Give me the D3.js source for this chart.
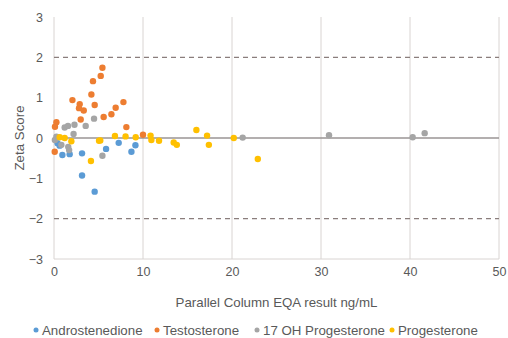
<!DOCTYPE html>
<html>
<head>
<meta charset="utf-8">
<script src="https://cdn.jsdelivr.net/npm/d3@7"></script>
<style>
  body { margin: 0; background: #fff; }
  svg { font-family: "Liberation Sans", Arial, sans-serif; }
</style>
</head>
<body>
<svg width="508" height="338"></svg>
<script>
// series values (x = EQA result ng/mL, y = zeta score)
const seriesNames = ['Androstenedione', 'Testosterone', '17 OH Progesterone', 'Progesterone'];
const seriesColors = ['#5B9BD5', '#ED7D31', '#A5A5A5', '#FFC000'];

const androX = [0.4, 0.64, 0.94, 1.76, 3.15, 5.85, 7.27, 8.7, 9.15, 3.15, 4.57];
const androY = [-0.13, -0.19, -0.42, -0.40, -0.38, -0.27, -0.12, -0.34, -0.18, -0.93, -1.33];

const testoX = [5.44, 5.25, 4.38, 4.2, 4.57, 2.07, 2.89, 2.81, 3.34, 3.0, 7.8, 6.93, 6.45, 5.58, 8.13, 10.0, 0.27, 0.11, 0.08];
const testoY = [1.74, 1.54, 1.41, 1.08, 0.82, 0.94, 0.84, 0.74, 0.68, 0.46, 0.89, 0.75, 0.59, 0.52, 0.27, 0.08, 0.39, 0.28, -0.34];

const ohpX = [0.27, 0.1, 1.2, 1.57, 2.3, 3.56, 4.5, 2.2, 0.83, 1.6, 1.7, 5.44, 21.2, 30.9, 40.3, 41.65];
const ohpY = [0.03, -0.05, 0.26, 0.30, 0.33, 0.30, 0.48, 0.10, -0.17, -0.22, -0.30, -0.44, 0.01, 0.07, 0.02, 0.12];

const progX = [0.64, 1.2, 1.95, 5.06, 5.2, 6.85, 8.04, 9.18, 10.85, 10.94, 11.8, 13.45, 13.8, 16.0, 17.2, 17.4, 20.2, 22.9, 4.15];
const progY = [0.02, 0.0, -0.08, -0.07, -0.06, 0.05, 0.04, 0.02, 0.06, -0.05, -0.07, -0.11, -0.17, 0.2, 0.06, -0.17, 0.0, -0.52, -0.57];

const xTicks = [0, 10, 20, 30, 40, 50];
const yTicks = [-3, -2, -1, 0, 1, 2, 3];
const limitLines = [-2, 2];

const seriesX = [androX, testoX, ohpX, progX];
const seriesY = [androY, testoY, ohpY, progY];

const svg = d3.select('svg');
const margin = { top: 17, right: 9, bottom: 79, left: 54 };
const width = 508 - margin.left - margin.right;
const height = 338 - margin.top - margin.bottom;

const x = d3.scaleLinear().domain([0, 50]).range([0, width]);
const y = d3.scaleLinear().domain([-3, 3]).range([height, 0]);

const g = svg.append('g').attr('transform', `translate(${margin.left},${margin.top})`);

// vertical gridlines
g.selectAll('.vgrid')
  .data(xTicks)
  .enter()
  .append('line')
  .attr('x1', (d) => x(d))
  .attr('x2', (d) => x(d))
  .attr('y1', 0)
  .attr('y2', height)
  .attr('stroke', '#d9d4d2')
  .attr('stroke-width', 1);

// bottom border
g.append('line')
  .attr('x1', 0).attr('x2', width)
  .attr('y1', y(-3)).attr('y2', y(-3))
  .attr('stroke', '#d9d4d2');

// +/- 2 limits
g.selectAll('.limit')
  .data(limitLines)
  .enter()
  .append('line')
  .attr('x1', 0).attr('x2', width)
  .attr('y1', (d) => y(d)).attr('y2', (d) => y(d))
  .attr('stroke', '#8a7e7c')
  .attr('stroke-width', 1.3)
  .attr('stroke-dasharray', '5,4');

// zero line
g.append('line')
  .attr('x1', 0).attr('x2', width)
  .attr('y1', y(0)).attr('y2', y(0))
  .attr('stroke', '#9a9594')
  .attr('stroke-width', 1.5);

// axes labels
const xAxis = d3.axisBottom(x).tickValues(xTicks).tickSize(0).tickPadding(8);
const xg = g.append('g').attr('transform', `translate(0,${height})`).call(xAxis);
xg.select('.domain').remove();
xg.selectAll('text').attr('font-size', 12.5).attr('fill', '#595959');

const yAxis = d3.axisLeft(y).tickValues(yTicks).tickSize(0).tickPadding(11).tickFormat(d3.format('d'));
const yg = g.append('g').call(yAxis);
yg.select('.domain').remove();
yg.selectAll('text').attr('font-size', 12.5).attr('fill', '#595959');

// points
seriesNames.forEach((name, i) => {
  const pts = seriesX[i].map((v, j) => [v, seriesY[i][j]]);
  g.append('g')
    .selectAll('circle')
    .data(pts)
    .enter()
    .append('circle')
    .attr('cx', (d) => x(d[0]))
    .attr('cy', (d) => y(d[1]))
    .attr('r', 3.2)
    .attr('fill', seriesColors[i]);
});

// axis titles
svg.append('text')
  .attr('x', margin.left + width / 2)
  .attr('y', 307)
  .attr('text-anchor', 'middle')
  .attr('font-size', 13.3)
  .attr('fill', '#595959')
  .text('Parallel Column  EQA result ng/mL');

svg.append('text')
  .attr('transform', `translate(24,${margin.top + height / 2}) rotate(-90)`)
  .attr('text-anchor', 'middle')
  .attr('font-size', 13.3)
  .attr('fill', '#595959')
  .text('Zeta Score');

// legend
const legendX = [36, 157, 257, 392];
const legend = svg.append('g');
seriesNames.forEach((name, i) => {
  legend.append('circle')
    .attr('cx', legendX[i])
    .attr('cy', 330)
    .attr('r', 2.5)
    .attr('fill', seriesColors[i]);
  legend.append('text')
    .attr('x', legendX[i] + 6)
    .attr('y', 334.5)
    .attr('font-size', 13.3)
    .attr('fill', '#595959')
    .text(name);
});
</script>
</body>
</html>
